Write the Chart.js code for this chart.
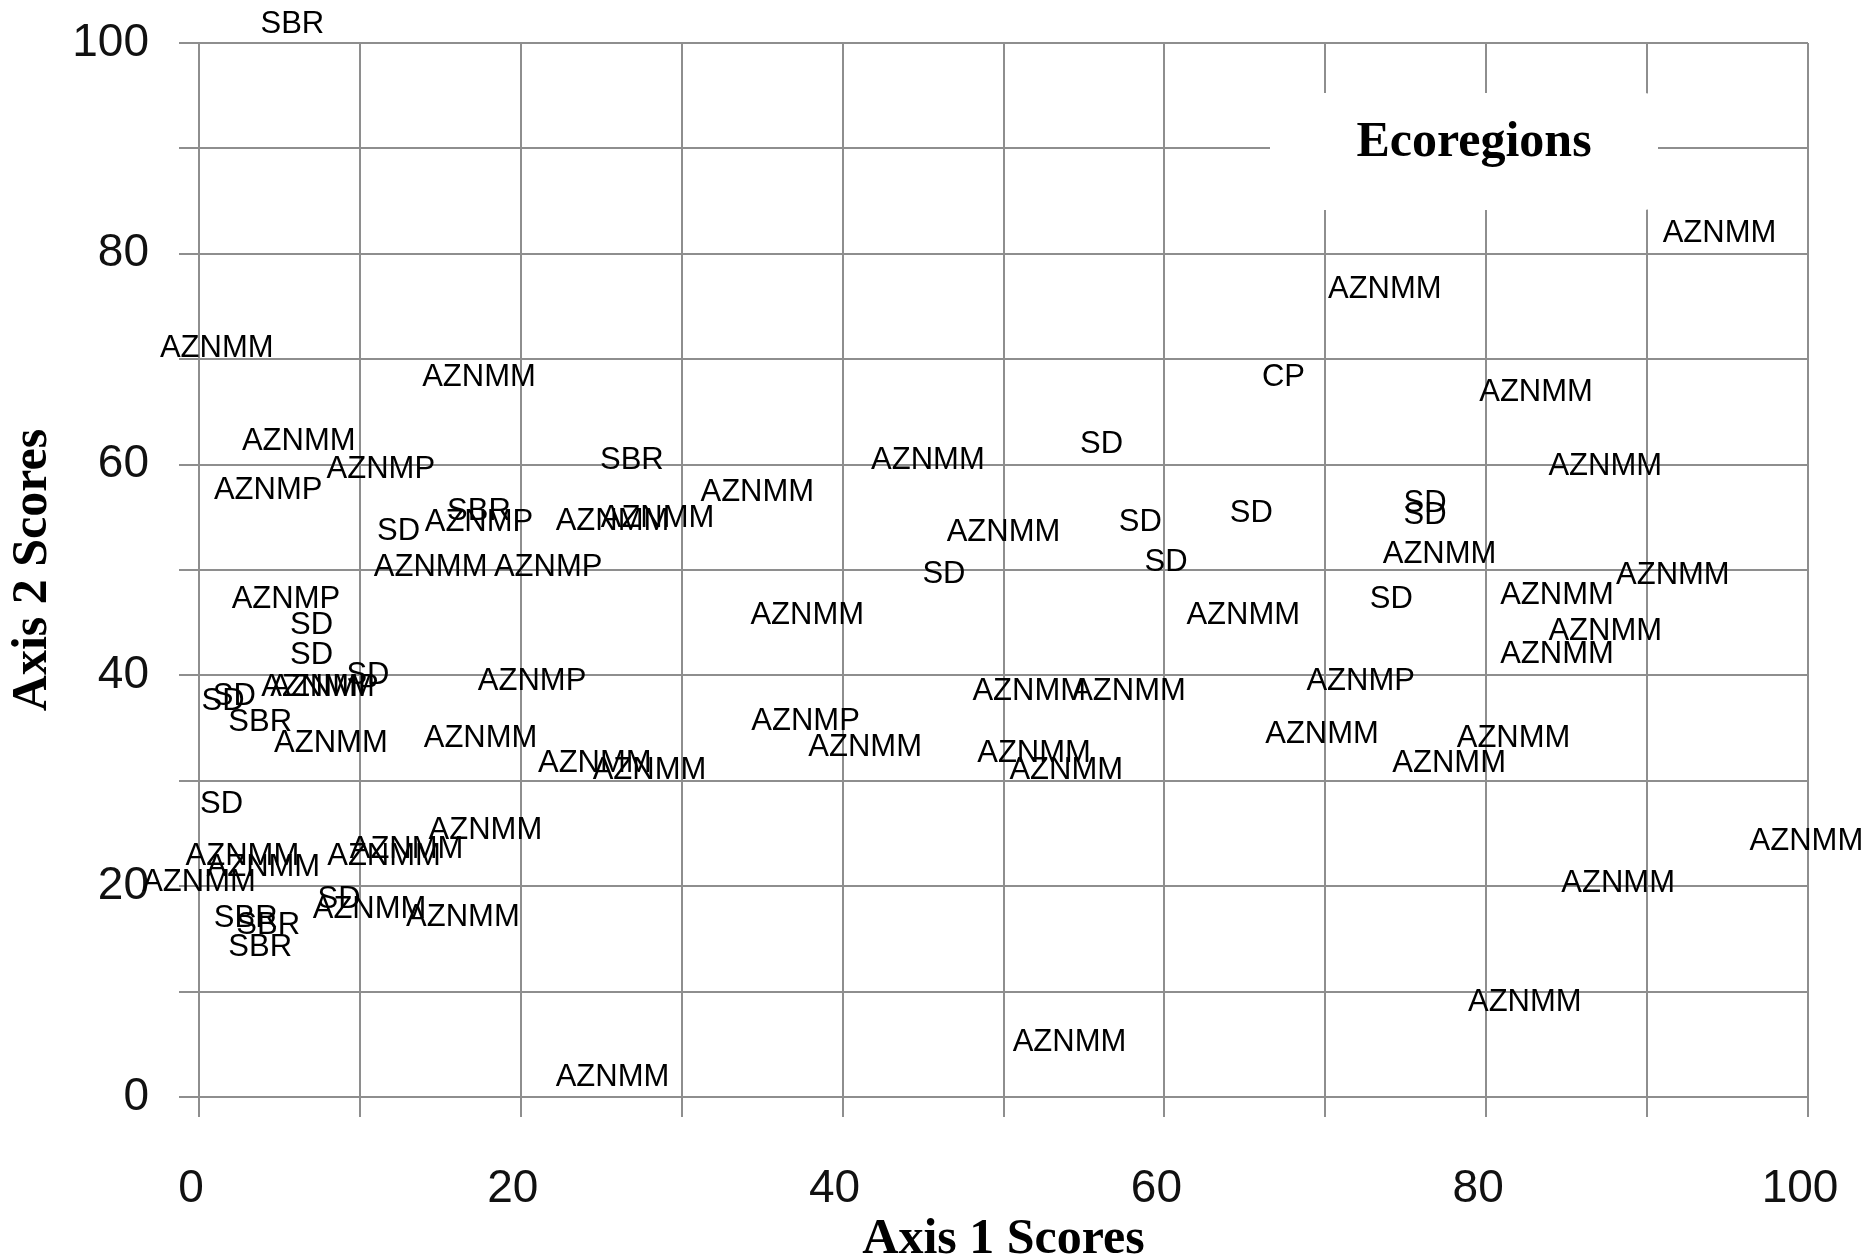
<!DOCTYPE html>
<html>
<head>
<meta charset="utf-8">
<title>Ecoregions ordination</title>
<script src="https://cdn.jsdelivr.net/npm/chart.js@4.4.1/dist/chart.umd.min.js"></script>
<style>
  html, body { margin: 0; padding: 0; background: #fff; }
  #wrap { width: 1866px; height: 1259px; }
</style>
</head>
<body>
<div id="wrap"><canvas id="ordination"></canvas></div>
<script>
// scores, one pair of arrays per ecoregion (Axis 1, Axis 2)
const aznmmAxis1 = [1.1, 17.4, 6.2, 14.4, 7.4, 8.2, 17.5, 34.7, 25.7, 28.5, 45.3, 37.8, 41.4, 24.6, 28.0,
  87.4, 50.0, 77.1, 91.6, 64.9, 84.4, 87.4, 84.4, 51.6, 57.8, 69.8, 81.7, 77.7, 51.9, 53.9,
  94.5, 73.7, 83.1, 99.9, 88.2, 82.4, 54.1, 25.7, 17.8, 2.7, 4.0, 0.0, 11.5, 12.9, 10.6, 16.4];
const aznmmAxis2 = [71.0, 68.3, 62.2, 50.2, 38.9, 33.5, 34.0, 57.4, 54.6, 54.9, 60.4, 45.7, 33.2, 31.6, 31.0,
  59.8, 53.6, 51.5, 49.5, 45.7, 47.6, 44.2, 42.0, 38.5, 38.5, 34.4, 34.0, 31.6, 32.6, 31.0,
  81.9, 76.6, 66.8, 24.2, 20.3, 9.0, 5.2, 1.9, 25.3, 22.8, 21.8, 20.4, 22.8, 23.5, 17.8, 17.0];

const aznmpAxis1 = [11.3, 4.3, 17.4, 21.7, 5.4, 7.8, 20.7, 37.7, 72.2];
const aznmpAxis2 = [59.5, 57.5, 54.5, 50.2, 47.2, 38.9, 39.4, 35.6, 39.4];

const sdAxis1 = [12.4, 7.0, 7.0, 10.5, 2.2, 1.5, 1.4, 46.3, 56.1, 58.5, 65.4, 76.2, 76.2, 60.1, 74.1, 8.7];
const sdAxis2 = [53.7, 44.7, 41.9, 40.0, 38.0, 37.5, 27.8, 49.6, 61.9, 54.5, 55.4, 56.3, 55.2, 50.7, 47.2, 18.7];

const sbrAxis1 = [5.8, 17.4, 3.8, 26.9, 2.9, 4.3, 3.8];
const sbrAxis2 = [101.8, 55.6, 35.5, 60.4, 16.9, 16.3, 14.2];

const cpAxis1 = [67.4];
const cpAxis2 = [68.3];

const axisTicks = [0, 20, 40, 60, 80, 100];

function toPoints(xs, ys) {
  return xs.map((x, i) => ({ x: x, y: ys[i] }));
}

const gridGray = '#8e8e8e';
const tickFont = { family: '"Liberation Sans", Arial, sans-serif', size: 46 };
const titleFont = { family: '"Liberation Serif", "Times New Roman", serif', size: 50, weight: 'bold', lineHeight: 1 };

// every point is drawn as its ecoregion code, like the data labels of the original
const codeLabels = {
  id: 'codeLabels',
  afterDatasetsDraw(chart) {
    const ctx = chart.ctx;
    ctx.save();
    ctx.font = '31px "Liberation Sans", Arial, sans-serif';
    ctx.fillStyle = '#000';
    ctx.textAlign = 'center';
    ctx.textBaseline = 'middle';
    chart.data.datasets.forEach((ds, i) => {
      chart.getDatasetMeta(i).data.forEach(pt => ctx.fillText(ds.label, pt.x, pt.y));
    });
    ctx.restore();
  }
};

// white box with the "Ecoregions" heading, laid over the grid
const ecoregionBox = {
  id: 'ecoregionBox',
  beforeDatasetsDraw(chart) {
    const { ctx, chartArea } = chart;
    const left = chartArea.right - 538;
    const top = chartArea.top + 50;
    ctx.save();
    ctx.fillStyle = '#fff';
    ctx.beginPath();
    ctx.roundRect(left, top, 388, 117, 14);
    ctx.fill();
    ctx.font = 'bold 50px "Liberation Serif", "Times New Roman", serif';
    ctx.fillStyle = '#000';
    ctx.textAlign = 'center';
    ctx.textBaseline = 'middle';
    ctx.fillText('Ecoregions', left + 204, top + 50);
    ctx.restore();
  }
};

function axisLabel(v) {
  return axisTicks.includes(v) ? String(v) : '';
}

new Chart(document.getElementById('ordination'), {
  type: 'scatter',
  data: {
    datasets: [
      { label: 'AZNMM', data: toPoints(aznmmAxis1, aznmmAxis2) },
      { label: 'AZNMP', data: toPoints(aznmpAxis1, aznmpAxis2) },
      { label: 'SD', data: toPoints(sdAxis1, sdAxis2) },
      { label: 'SBR', data: toPoints(sbrAxis1, sbrAxis2) },
      { label: 'CP', data: toPoints(cpAxis1, cpAxis2) }
    ]
  },
  options: {
    responsive: true,
    maintainAspectRatio: false,
    animation: false,
    layout: { padding: { top: 43, right: 58, left: 0, bottom: 0 } },
    elements: { point: { radius: 0, hoverRadius: 0 } },
    plugins: {
      legend: { display: false },
      tooltip: { enabled: false }
    },
    scales: {
      x: {
        min: 0,
        max: 100,
        ticks: {
          stepSize: 10,
          autoSkip: false,
          maxRotation: 0,
          padding: 45,
          labelOffset: -8,
          color: '#111',
          font: tickFont,
          callback: axisLabel
        },
        grid: { color: gridGray, lineWidth: 2, tickLength: 20 },
        border: { color: gridGray, width: 2 },
        title: {
          display: true, text: 'Axis 1 Scores', color: '#000',
          font: Object.assign({}, titleFont, { lineHeight: 0.75 }),
          padding: { top: 0, bottom: 0 }
        },
        afterFit(scale) {
          scale.height = 162;
          scale.paddingLeft = 0;
          scale.paddingRight = 0;
        }
      },
      y: {
        min: 0,
        max: 100,
        ticks: {
          stepSize: 10,
          autoSkip: false,
          padding: 30,
          color: '#111',
          font: tickFont,
          callback: axisLabel
        },
        grid: { color: gridGray, lineWidth: 2, tickLength: 20 },
        border: { color: gridGray, width: 2 },
        title: { display: true, text: 'Axis 2 Scores', color: '#000', font: titleFont, padding: { top: 8, bottom: 0 } },
        afterFit(scale) {
          scale.width = 199;
          scale.paddingTop = 0;
          scale.paddingBottom = 0;
        }
      }
    }
  },
  plugins: [ecoregionBox, codeLabels]
});
</script>
</body>
</html>
